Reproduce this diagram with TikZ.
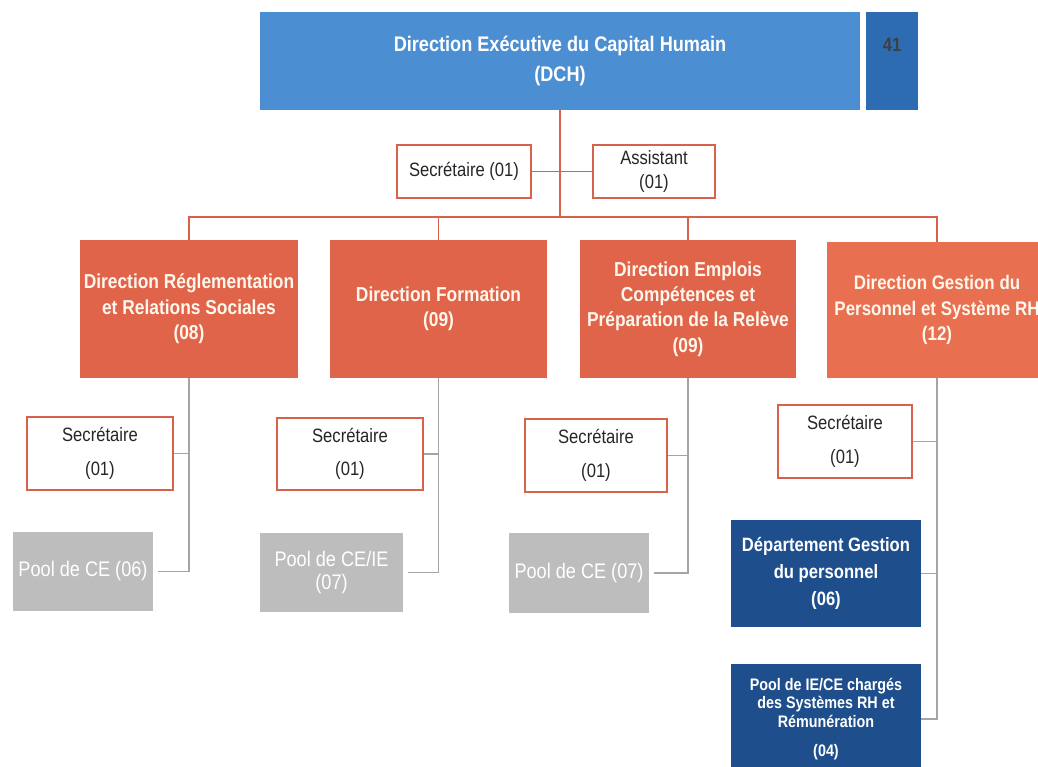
\documentclass[tikz,border=0pt]{standalone}
\usepackage{fontspec}
\setmainfont{Liberation Sans}[FakeStretch=0.86]
\definecolor{dchblue}{HTML}{4B8FD2}
\definecolor{numblue}{HTML}{2D6CB3}
\definecolor{dirorange}{HTML}{E0644A}
\definecolor{dirorangeb}{HTML}{E86F50}
\definecolor{navy}{HTML}{1E4E8C}
\definecolor{poolgray}{HTML}{BDBDBD}
\definecolor{linered}{HTML}{D8614B}
\definecolor{linegray}{HTML}{A5A5A5}
\definecolor{creamtext}{HTML}{FFF6EC}
\begin{document}
\begin{tikzpicture}[x=0.02cm,y=-0.02cm,
  sz/.style 2 args={minimum width=#1*0.02cm, minimum height=#2*0.02cm},
  base/.style={inner sep=0pt, align=center},
  topbox/.style={base, fill=dchblue, text=white,
    font=\bfseries\fontsize{12}{17}\selectfont},
  numbox/.style={base, fill=numblue, text=black!75,
    font=\bfseries\fontsize{11}{13}\selectfont},
  aidbox/.style={base, draw=linered, line width=0.9pt, fill=white, text=black!85,
    font=\fontsize{11}{14}\selectfont},
  secbox/.style={base, draw=linered, line width=0.9pt, fill=white, text=black!85,
    font=\fontsize{11}{19}\selectfont},
  dirbox/.style={base, fill=dirorange, text=creamtext,
    font=\bfseries\fontsize{11.5}{14.5}\selectfont},
  poolbox/.style={base, fill=poolgray, text=white,
    font=\fontsize{12}{13.5}\selectfont},
  deptbox/.style={base, fill=navy, text=white,
    font=\bfseries\fontsize{11}{15.5}\selectfont},
  rhbox/.style={base, fill=navy, text=white,
    font=\bfseries\fontsize{9.5}{10.6}\selectfont},
  redline/.style={draw=linered, line width=0.9pt},
  grayline/.style={draw=linegray, line width=0.8pt}]
\useasboundingbox (0,0) rectangle (1038,767);

% executive direction and its staff
\node[topbox, sz={600}{98}] (dch) at (560,61) {Direction Exécutive du Capital Humain\\(DCH)};
\node[numbox, sz={52}{98}] (num) at (892,61) {41\\[5pt]};
\node[aidbox, sz={134}{53}] (sec0) at (464,171.5) {Secrétaire (01)};
\node[aidbox, sz={122}{53}] (asst) at (654,171.5) {Assistant\\(01)};

% the four directions
\node[dirbox, sz={218}{138}] (d1) at (189,309) {Direction Réglementation\\et Relations Sociales\\(08)};
\node[dirbox, sz={217}{138}] (d2) at (438.5,309) {Direction Formation\\(09)};
\node[dirbox, sz={216}{138}] (d3) at (688,309) {Direction Emplois\\Compétences et\\Préparation de la Relève\\(09)};
\node[dirbox, fill=dirorangeb, sz={220}{136}, font=\bfseries\fontsize{11.2}{14.5}\selectfont]
  (d4) at (937,310) {Direction Gestion du\\Personnel et Système RH\\(12)};

% units under each direction
\node[secbox, sz={146}{73}] (s1) at (100,453.5) {Secrétaire\\(01)};
\node[poolbox, sz={140}{79}] (p1) at (83,571.5) {Pool de CE (06)};
\node[secbox, sz={146}{72}] (s2) at (350,454) {Secrétaire\\(01)};
\node[poolbox, sz={143}{79}] (p2) at (331.5,572.5) {Pool de CE/IE\\(07)};
\node[secbox, sz={142}{73}] (s3) at (596,455.5) {Secrétaire\\(01)};
\node[poolbox, sz={140}{80}] (p3) at (579,573) {Pool de CE (07)};
\node[secbox, sz={134}{73}] (s4) at (845,441.5) {Secrétaire\\(01)};
\node[deptbox, sz={190}{107}] (dep) at (826,573.5) {Département Gestion\\du personnel\\(06)};
\node[rhbox, sz={190}{110}] (rh) at (826,719) {Pool de IE/CE chargés\\des Systèmes RH et\\Rémunération\\[6pt](04)};

% connectors of the upper level
\coordinate (bus) at (560,217);
\draw[redline] (dch.south) -- (bus);
\draw[redline] (sec0.east) -- (asst.west);
\draw[redline] (d1.north) |- (bus) -| (d4.north);
\draw[redline] (d2.north) -- (d2.north |- bus);
\draw[redline] (d3.north) -- (d3.north |- bus);

% connectors under the directions
\draw[grayline] (d1.south) |- ([xshift=0.1cm]p1.east);
\draw[grayline] (s1.east) -- (s1.east -| d1.south);
\draw[grayline] (d2.south) |- ([xshift=0.1cm]p2.east);
\draw[grayline] (s2.east) -- (s2.east -| d2.south);
\draw[grayline] (d3.south) |- ([xshift=0.1cm]p3.east);
\draw[grayline] (s3.east) -- (s3.east -| d3.south);
\draw[grayline] (d4.south) |- (rh.east);
\draw[grayline] (s4.east) -- (s4.east -| d4.south);
\draw[grayline] (dep.east) -- (dep.east -| d4.south);
\end{tikzpicture}
\end{document}
